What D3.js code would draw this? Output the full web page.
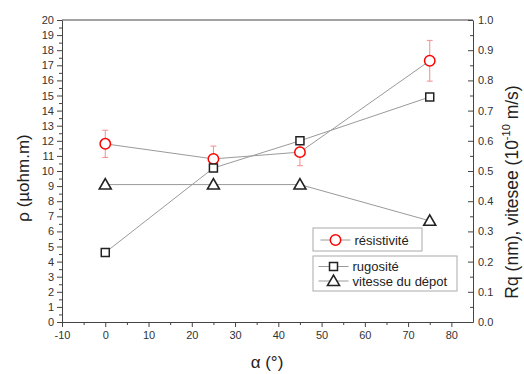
<!DOCTYPE html>
<html><head><meta charset="utf-8">
<script src="https://cdn.jsdelivr.net/npm/d3@7"></script>
<style>body{margin:0;background:#fff}svg{display:block}text{font-family:"Liberation Sans",Arial,sans-serif}</style>
</head><body>
<svg id="c" width="524" height="374"></svg>
<script>
const alpha = [0, 25, 45, 75];
const resistivite = [11.8, 10.8, 11.25, 17.3];
const resErr = [0.9, 0.85, 0.9, 1.35];
const rugosite = [0.23, 0.51, 0.60, 0.745];
const vitesse = [0.455, 0.455, 0.455, 0.335];
const xTicks = [-10, 0, 10, 20, 30, 40, 50, 60, 70, 80];
const yLeftTicks = d3.range(0, 21, 1);
const yRightTicks = d3.range(0, 11, 1).map(d => d / 10);

const svg = d3.select("#c");
const L = 62, R = 473, T = 20, B = 322;
const x = d3.scaleLinear().domain([-10, 85]).range([L, R]);
const yL = d3.scaleLinear().domain([0, 20]).range([B, T]);
const yR = d3.scaleLinear().domain([0, 1]).range([B, T]);
const axCol = "#444";

function styleAxis(g, fs) {
  g.selectAll("path").attr("stroke", axCol);
  g.selectAll("line").attr("stroke", axCol);
  g.selectAll("text").attr("fill", "#333").style("font-size", fs + "px").attr("font-family", "Liberation Sans, Arial, sans-serif");
}

// minor ticks
svg.append("g").attr("transform", `translate(${L},0)`)
  .call(d3.axisLeft(yL).tickValues(d3.range(0.5, 20, 1)).tickSize(3).tickFormat("").tickSizeOuter(0))
  .call(g => { g.select("path").remove(); g.selectAll("line").attr("stroke", axCol); });
svg.append("g").attr("transform", `translate(0,${B})`)
  .call(d3.axisBottom(x).tickValues(d3.range(-5, 85, 10)).tickSize(3).tickFormat("").tickSizeOuter(0))
  .call(g => { g.select("path").remove(); g.selectAll("line").attr("stroke", axCol); });
svg.append("g").attr("transform", `translate(${R},0)`)
  .call(d3.axisRight(yR).tickValues(d3.range(0.05, 1, 0.1)).tickSize(-3).tickFormat("").tickSizeOuter(0))
  .call(g => { g.select("path").remove(); g.selectAll("line").attr("stroke", axCol); });

// major axes
svg.append("g").attr("transform", `translate(${L},0)`)
  .call(d3.axisLeft(yL).tickValues(yLeftTicks).tickSize(5).tickSizeOuter(0).tickPadding(3).tickFormat(d => String(d)))
  .call(g => styleAxis(g, 11));
svg.append("g").attr("transform", `translate(0,${B})`)
  .call(d3.axisBottom(x).tickValues(xTicks).tickSize(5).tickSizeOuter(0).tickPadding(4).tickFormat(d => String(d)))
  .call(g => styleAxis(g, 11));
svg.append("g").attr("transform", `translate(${R},0)`)
  .call(d3.axisRight(yR).tickValues(yRightTicks).tickSize(-5).tickSizeOuter(0).tickPadding(5).tickFormat(d3.format(".1f")))
  .call(g => styleAxis(g, 11));
svg.append("line").attr("x1", L).attr("x2", R).attr("y1", T).attr("y2", T).attr("stroke", axCol);

// titles
svg.append("text").attr("transform", `translate(29,178) rotate(-90)`).attr("text-anchor", "middle")
  .style("font-size", "17px").attr("fill", "#222").text("ρ (µohm.m)");
const rt = svg.append("text").attr("transform", `translate(518,192) rotate(-90)`).attr("text-anchor", "middle")
  .style("font-size", "17.5px").attr("fill", "#222");
rt.append("tspan").text("Rq (nm), vitesee (10");
rt.append("tspan").attr("dy", -8).style("font-size", "11px").text("-10");
rt.append("tspan").attr("dy", 8).text(" m/s)");
svg.append("text").attr("x", 267).attr("y", 368).attr("text-anchor", "middle")
  .style("font-size", "17px").attr("fill", "#222").text("α (°)");

const lineCol = "#9a9a9a";
const mkLine = (vals, ys) => d3.line().x((d, i) => x(alpha[i])).y(d => ys(d))(vals);
svg.append("path").attr("d", mkLine(rugosite, yR)).attr("fill", "none").attr("stroke", lineCol).attr("stroke-width", 1);
svg.append("path").attr("d", mkLine(vitesse, yR)).attr("fill", "none").attr("stroke", lineCol).attr("stroke-width", 1);
svg.append("path").attr("d", mkLine(resistivite, yL)).attr("fill", "none").attr("stroke", lineCol).attr("stroke-width", 1);

// error bars
const eb = svg.append("g").attr("stroke", "#f58c8c").attr("stroke-width", 1);
resistivite.forEach((v, i) => {
  const cx = x(alpha[i]);
  eb.append("line").attr("x1", cx).attr("x2", cx).attr("y1", yL(v - resErr[i])).attr("y2", yL(v + resErr[i]));
  [v - resErr[i], v + resErr[i]].forEach(e => eb.append("line").attr("x1", cx - 3).attr("x2", cx + 3).attr("y1", yL(e)).attr("y2", yL(e)));
});

const sq = d3.symbol().type(d3.symbolSquare).size(64);
const tri = d3.symbol().type(d3.symbolTriangle).size(62);
function drawSym(g, type, cx, cy) {
  if (type === "circle") g.append("circle").attr("cx", cx).attr("cy", cy).attr("r", 5.2).attr("fill", "#fff").attr("stroke", "#f00").attr("stroke-width", 1.5);
  else if (type === "square") g.append("path").attr("d", sq()).attr("transform", `translate(${cx},${cy})`).attr("fill", "#fff").attr("stroke", "#222").attr("stroke-width", 1.5);
  else g.append("path").attr("d", tri()).attr("transform", `translate(${cx},${cy + 1})`).attr("fill", "#fff").attr("stroke", "#222").attr("stroke-width", 1.6);
}
const mg = svg.append("g");
vitesse.forEach((v, i) => drawSym(mg, "tri", x(alpha[i]), yR(v)));
resistivite.forEach((v, i) => drawSym(mg, "circle", x(alpha[i]), yL(v)));
rugosite.forEach((v, i) => drawSym(mg, "square", x(alpha[i]), yR(v)));

// legends
const lg = svg.append("g");
lg.append("rect").attr("x", 313).attr("y", 228).attr("width", 109).attr("height", 23).attr("fill", "#fff").attr("stroke", "#aaa");
lg.append("rect").attr("x", 313).attr("y", 256).attr("width", 144).attr("height", 35).attr("fill", "#fff").attr("stroke", "#aaa");
const items = [
  {t: "résistivité", s: "circle", y: 240, x: 335.5},
  {t: "rugosité", s: "square", y: 266.5, x: 333.5},
  {t: "vitesse du dépot", s: "tri", y: 281, x: 333.5}
];
items.forEach(it => {
  lg.append("line").attr("x1", it.x - 15).attr("x2", it.x + 15).attr("y1", it.y).attr("y2", it.y).attr("stroke", lineCol);
  drawSym(lg, it.s, it.x, it.y);
  lg.append("text").attr("x", it.x + 19).attr("y", it.y + 4.5).style("font-size", "13px").attr("fill", "#222").text(it.t);
});
</script>
</body></html>
